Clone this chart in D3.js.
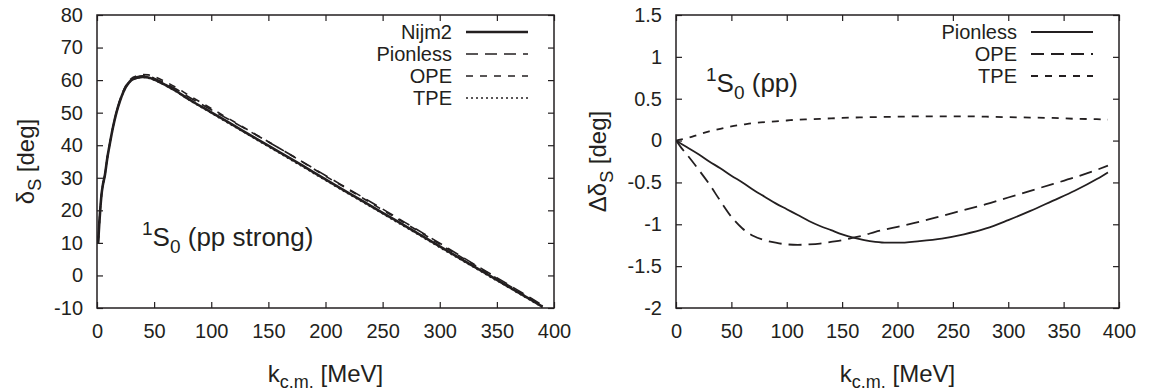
<!DOCTYPE html>
<html>
<head>
<meta charset="utf-8">
<script src="https://cdn.jsdelivr.net/npm/d3@7"></script>
<style>
  body { margin: 0; background: #fff; }
  svg text { font-family: "Liberation Sans", Arial, Helvetica, sans-serif; fill: #231f20; }
</style>
</head>
<body>
<div id="chart"></div>
<script>
// ---- left panel: phase shifts (deg) ----
const kLeft = [1, 2, 3, 4, 5, 7, 9, 11, 14, 17, 20, 23, 26, 30, 35, 40, 45, 50, 60, 70, 80, 100, 120, 140, 160, 180, 200, 220, 240, 260, 280, 300, 320, 340, 360, 380, 390]
const nijm2 = [10, 16, 21, 25, 27.5, 31, 36, 40, 45.5, 50, 53.5, 56.3, 58.3, 60, 60.7, 61, 60.8, 60.2, 58.5, 56.5, 54.2, 50.1, 46, 41.9, 37.8, 33.7, 29.5, 25.4, 21.3, 17.2, 13.1, 8.9, 4.8, 0.7, -3.4, -7.5, -9.6]
const pionlessL = [10, 16, 21, 25, 27.5, 31.1, 36.1, 40.1, 45.6, 50.1, 53.7, 56.5, 58.5, 60.2, 61, 61.3, 61.2, 60.6, 59, 57.1, 54.9, 50.9, 47, 43, 39, 34.9, 30.7, 26.6, 22.5, 18.3, 14.1, 9.9, 5.6, 1.4, -2.8, -7, -9.2]
const opeL = [10, 16, 21.1, 25.1, 27.6, 31.1, 36.2, 40.2, 45.7, 50.3, 53.8, 56.7, 58.8, 60.5, 61.3, 61.7, 61.6, 61.1, 59.5, 57.6, 55.4, 51.3, 47.2, 43.1, 39, 34.8, 30.5, 26.4, 22.2, 18, 13.9, 9.6, 5.4, 1.2, -3, -7.2, -9.3]
const tpeL = [10, 16, 21, 25, 27.5, 31, 36, 40, 45.5, 49.95, 53.45, 56.2, 58.2, 59.9, 60.6, 60.86, 60.6, 60, 58.3, 56.3, 54, 49.86, 45.75, 41.63, 37.5, 33.4, 29.2, 25.1, 21, 16.9, 12.8, 8.6, 4.5, 0.4, -3.65, -7.75, -9.85]

// ---- right panel: differences to Nijm2 (deg) ----
const kRight = [0, 5, 10, 20, 30, 40, 50, 60, 70, 80, 90, 100, 110, 120, 130, 140, 150, 160, 170, 180, 190, 200, 220, 240, 260, 280, 300, 320, 340, 360, 380, 390]
const dPionless = [0, -0.04, -0.08, -0.16, -0.25, -0.33, -0.42, -0.5, -0.59, -0.67, -0.75, -0.82, -0.89, -0.96, -1.02, -1.07, -1.12, -1.16, -1.19, -1.21, -1.22, -1.22, -1.2, -1.17, -1.12, -1.05, -0.95, -0.84, -0.72, -0.6, -0.46, -0.38]
const dOPE = [0, -0.09, -0.17, -0.34, -0.52, -0.72, -0.91, -1.05, -1.14, -1.19, -1.22, -1.24, -1.245, -1.24, -1.23, -1.21, -1.19, -1.16, -1.13, -1.09, -1.06, -1.03, -0.97, -0.9, -0.83, -0.76, -0.68, -0.6, -0.52, -0.44, -0.35, -0.3]
const dTPE = [0, 0.015, 0.03, 0.07, 0.11, 0.14, 0.17, 0.19, 0.21, 0.22, 0.23, 0.24, 0.25, 0.255, 0.26, 0.265, 0.27, 0.275, 0.278, 0.28, 0.283, 0.285, 0.29, 0.29, 0.29, 0.285, 0.28, 0.275, 0.27, 0.26, 0.255, 0.25]

const xTicks = [0, 50, 100, 150, 200, 250, 300, 350, 400]
const yTicksLeft = [-10, 0, 10, 20, 30, 40, 50, 60, 70, 80]
const yTicksRight = [-2, -1.5, -1, -0.5, 0, 0.5, 1, 1.5]

const W = 1152, H = 391
const ink = "#231f20"

const svg = d3.select("#chart").append("svg")
  .attr("width", W)
  .attr("height", H)

function panel(opts) {
  const x = d3.scaleLinear().domain([0, 400]).range([opts.x0, opts.x1])
  const y = d3.scaleLinear().domain(opts.yDomain).range([opts.y1, opts.y0])
  const g = svg.append("g")

  const clipId = "clip" + opts.id
  svg.append("clipPath").attr("id", clipId)
    .append("rect")
      .attr("x", opts.x0).attr("y", opts.y0)
      .attr("width", opts.x1 - opts.x0).attr("height", opts.y1 - opts.y0)

  const fmt = d => String(d)

  // axes with inward ticks, mirrored on top/right
  g.append("g")
    .attr("transform", "translate(0," + opts.y1 + ")")
    .call(d3.axisBottom(x).tickValues(xTicks).tickSize(-6).tickPadding(16).tickFormat(fmt))
  g.append("g")
    .attr("transform", "translate(0," + opts.y0 + ")")
    .call(d3.axisTop(x).tickValues(xTicks).tickSize(-6).tickFormat(""))
  g.append("g")
    .attr("transform", "translate(" + opts.x0 + ",0)")
    .call(d3.axisLeft(y).tickValues(opts.yTicks).tickSize(-6).tickPadding(14).tickFormat(fmt))
  g.append("g")
    .attr("transform", "translate(" + opts.x1 + ",0)")
    .call(d3.axisRight(y).tickValues(opts.yTicks).tickSize(-6).tickFormat(""))

  g.selectAll(".domain").remove()
  g.selectAll(".tick line").attr("stroke", ink).attr("stroke-width", 1.2)
  g.selectAll(".tick text")
    .style("font-size", "20px")
    .style("fill", ink)

  g.append("rect")
    .attr("x", opts.x0).attr("y", opts.y0)
    .attr("width", opts.x1 - opts.x0).attr("height", opts.y1 - opts.y0)
    .attr("fill", "none")
    .attr("stroke", ink)
    .attr("stroke-width", 1.5)

  const line = d3.line()
    .x(d => x(d[0]))
    .y(d => y(d[1]))
    .curve(d3.curveMonotoneX)

  const curves = g.append("g").attr("clip-path", "url(#" + clipId + ")")
  opts.series.forEach(s => {
    curves.append("path")
      .datum(s.k.map((k, i) => [k, s.v[i]]))
      .attr("d", line)
      .attr("fill", "none")
      .attr("stroke", ink)
      .attr("stroke-width", s.width)
      .attr("stroke-dasharray", s.dash)
  })

  // legend
  const leg = g.append("g")
  opts.series.forEach((s, i) => {
    const yy = opts.legend.y + i * opts.legend.step
    leg.append("text")
      .attr("x", opts.legend.x)
      .attr("y", yy + 7)
      .attr("text-anchor", "end")
      .style("font-size", "20px")
      .text(s.name)
    leg.append("line")
      .attr("x1", opts.legend.x + 14).attr("x2", opts.legend.x + 76)
      .attr("y1", yy).attr("y2", yy)
      .attr("stroke", ink)
      .attr("stroke-width", s.width)
      .attr("stroke-dasharray", s.dash)
  })

  // x label
  const xl = g.append("text")
    .attr("x", (opts.x0 + opts.x1) / 2)
    .attr("y", 382)
    .attr("text-anchor", "middle")
    .style("font-size", "24px")
  xl.append("tspan").text("k")
  xl.append("tspan").attr("dy", 6).style("font-size", "18px").text("c.m.")
  xl.append("tspan").attr("dy", -6).text(" [MeV]")

  // y label
  const yl = g.append("text")
    .attr("transform", "translate(" + opts.yLabelX + "," + ((opts.y0 + opts.y1) / 2) + ") rotate(-90)")
    .attr("text-anchor", "middle")
    .style("font-size", "24px")
  yl.append("tspan").text(opts.yLabel)
  yl.append("tspan").attr("dy", 7).style("font-size", "18px").text("S")
  yl.append("tspan").attr("dy", -7).text(" [deg]")

  // channel annotation
  const an = g.append("text")
    .attr("x", opts.note.x)
    .attr("y", opts.note.y)
    .style("font-size", "26px")
  an.append("tspan").attr("dy", -11).style("font-size", "19px").text("1")
  an.append("tspan").attr("dy", 11).text("S")
  an.append("tspan").attr("dy", 7).style("font-size", "19px").text("0")
  an.append("tspan").attr("dy", -7).text(" " + opts.note.text)
}

panel({
  id: "L",
  x0: 97, x1: 554, y0: 15, y1: 308,
  yDomain: [-10, 80],
  yTicks: yTicksLeft,
  yLabel: "\u03b4",
  yLabelX: 34,
  note: { x: 142, y: 246, text: "(pp strong)" },
  legend: { x: 452, y: 32, step: 22 },
  series: [
    { name: "Nijm2", k: kLeft, v: nijm2, width: 2.6, dash: null },
    { name: "Pionless", k: kLeft, v: pionlessL, width: 1.6, dash: "12,7" },
    { name: "OPE", k: kLeft, v: opeL, width: 1.6, dash: "7,7" },
    { name: "TPE", k: kLeft, v: tpeL, width: 1.6, dash: "2,3" }
  ]
})

panel({
  id: "R",
  x0: 676, x1: 1119, y0: 15, y1: 308,
  yDomain: [-2, 1.5],
  yTicks: yTicksRight,
  yLabel: "\u0394\u03b4",
  yLabelX: 606,
  note: { x: 706, y: 92, text: "(pp)" },
  legend: { x: 1017, y: 32, step: 22 },
  series: [
    { name: "Pionless", k: kRight, v: dPionless, width: 1.8, dash: null },
    { name: "OPE", k: kRight, v: dOPE, width: 1.8, dash: "13,7" },
    { name: "TPE", k: kRight, v: dTPE, width: 1.8, dash: "7,7" }
  ]
})
</script>
</body>
</html>
